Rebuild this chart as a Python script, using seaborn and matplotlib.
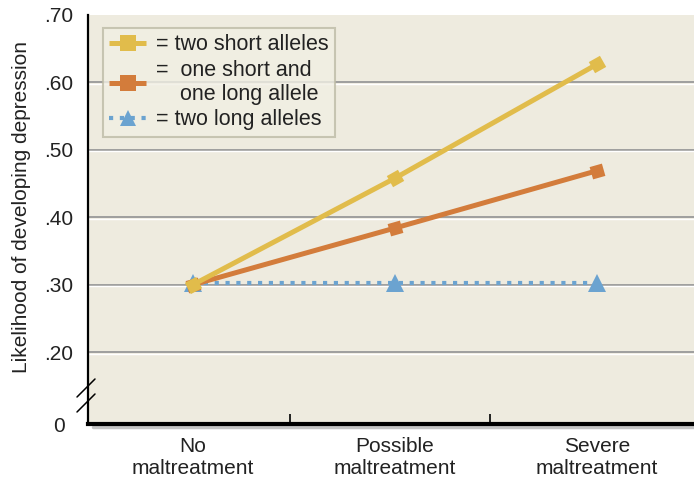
import matplotlib
matplotlib.use("Agg")
import numpy as np
import matplotlib.pyplot as plt
import matplotlib.transforms as mtransforms
from matplotlib.lines import Line2D
import seaborn as sns
import pandas as pd

categories = ["No\nmaltreatment", "Possible\nmaltreatment", "Severe\nmaltreatment"]
two_short = [0.300, 0.458, 0.627]
one_short_one_long = [0.300, 0.384, 0.469]
two_long = [0.302, 0.302, 0.302]
series_labels = ["= two short alleles", "=  one short and\n    one long allele", "= two long alleles"]
ytick_vals = [0.0933, 0.20, 0.30, 0.40, 0.50, 0.60, 0.70]
ytick_labels = ["0", ".20", ".30", ".40", ".50", ".60", ".70"]

sns.set_theme(style="white")
plt.rcParams["font.family"] = ["Liberation Sans", "DejaVu Sans"]

fig = plt.figure(figsize=(6.94, 4.83), dpi=100)
ax = fig.add_axes([88/694, 1-424/483, 1-88/694, (424-15)/483])
ax.set_facecolor("#EEEBDF")
ax.set_xlim(-0.52, 2.48)
ax.set_ylim(0.0933, 0.70)

yellow = "#E1BC4B"
orange = "#D37C3B"
blue = "#6BA3D0"

x = list(range(len(categories)))
# grid lines (embossed)
for v in [0.2, 0.3, 0.4, 0.5, 0.6]:
    ax.axhline(v, color="#9E9E9E", lw=1.4, zorder=1)
    tr = mtransforms.offset_copy(ax.transData, fig=fig, x=0, y=-1.6, units="dots")
    ax.plot([-1, 3], [v, v], color="white", lw=1.0, transform=tr, zorder=1)

LW = 3.6
df_l = pd.DataFrame({"x": x, "y": two_long})
sns.lineplot(data=df_l, x="x", y="y", ax=ax, color=blue, lw=3.0,
             linestyle=(0, (1, 1.6)), marker="^", markersize=13,
             markeredgewidth=0, zorder=3)
df_o = pd.DataFrame({"x": x, "y": one_short_one_long})
sns.lineplot(data=df_o, x="x", y="y", ax=ax, color=orange, lw=LW, zorder=4)
df_y = pd.DataFrame({"x": x, "y": two_short})
sns.lineplot(data=df_y, x="x", y="y", ax=ax, color=yellow, lw=LW, zorder=5)
for ln in ax.lines:
    ln.set_dash_capstyle("butt")
    ln.set_solid_capstyle("butt")


def rotated_markers(vals, color, z):
    pts = ax.transData.transform(np.column_stack([x, vals]))
    for i in range(len(x)):
        if i < len(x) - 1:
            d = pts[i + 1] - pts[i]
        else:
            d = pts[i] - pts[i - 1]
        ang = np.degrees(np.arctan2(d[1], d[0]))
        ax.plot([x[i]], [vals[i]], linestyle="none", marker=(4, 0, 45 + ang),
                markersize=13, color=color, markeredgewidth=0, zorder=z)


rotated_markers(one_short_one_long, orange, 4.5)
rotated_markers(two_short, yellow, 5.5)

ax.set_xticks([0.48, 1.47])
ax.set_xticklabels(["", ""])
ax.tick_params(axis="x", direction="in", length=7, width=1.2, color="black", bottom=True)
ax.set_yticks(ytick_vals)
ax.set_yticklabels(ytick_labels)
ax.tick_params(axis="y", length=0, pad=21, labelsize=15, labelcolor="#222222")
for lab in ax.get_yticklabels():
    lab.set_horizontalalignment("center")
for xi, c in zip(x, categories):
    ax.text(xi, -0.031, c, transform=ax.get_xaxis_transform(), ha="center", va="top",
            fontsize=15, color="#222222", linespacing=1.25)
ax.set_xlabel("")
ax.set_ylabel("Likelihood of developing depression", fontsize=15, color="#222222")
ax.yaxis.set_label_coords(-(88 - 31) / 606, (424 - 207) / 409)

for s in ["top", "right"]:
    ax.spines[s].set_visible(False)
ax.spines["left"].set_color("black")
ax.spines["left"].set_linewidth(1.6)
ax.spines["bottom"].set_color("black")
ax.spines["bottom"].set_linewidth(3)
# shadow under bottom spine
fig.add_artist(Line2D([93/694, 1.0], [1 - 427/483, 1 - 427/483], color="#C4C4C4", lw=2.5, zorder=0))
# axis break marks
for (x0, y0, x1, y1) in [(77, 397, 95, 379), (77, 412, 95, 394)]:
    fig.add_artist(Line2D([x0/694, x1/694], [1-y0/483, 1-y1/483], color="black", lw=1.1))

handles = [
    Line2D([], [], color=yellow, lw=LW, marker="s", markersize=11, markeredgewidth=0, solid_capstyle="butt"),
    Line2D([], [], color=orange, lw=LW, marker="s", markersize=11, markeredgewidth=0, solid_capstyle="butt"),
    Line2D([], [], color=blue, lw=3.0, linestyle=(0, (1, 1.6)), marker="^", markersize=12,
           markeredgewidth=0, dash_capstyle="butt"),
]
leg = ax.legend(handles, series_labels, loc="upper left",
                bbox_to_anchor=((103 - 88) / 606, (424 - 28) / 409),
                fontsize=15.5, frameon=True, fancybox=False, handlelength=1.7,
                handletextpad=0.45, borderpad=0.3, labelspacing=0.2, borderaxespad=0)
leg.get_frame().set_facecolor("#F1EFE4")
leg.get_frame().set_edgecolor("#BDBBA6")
leg.get_frame().set_linewidth(1.5)
for t in leg.get_texts():
    t.set_color("#222222")

fig.savefig("out.png", dpi=100, facecolor="white")
